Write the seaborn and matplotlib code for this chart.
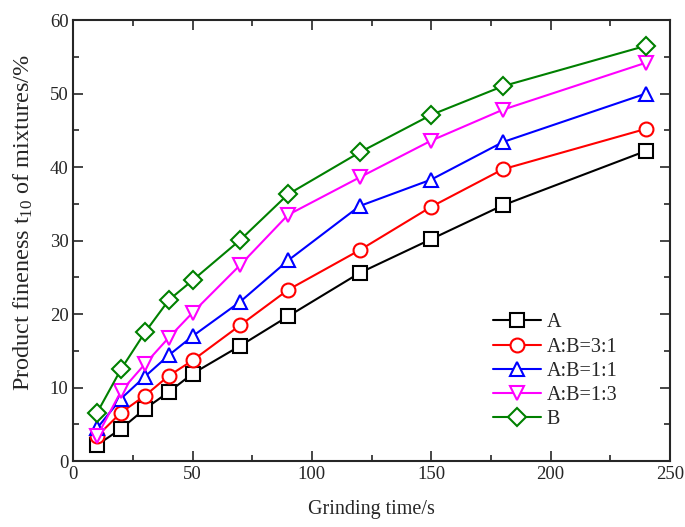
import matplotlib
matplotlib.use("Agg")
import matplotlib.pyplot as plt
import seaborn as sns
import numpy as np
from matplotlib.ticker import MultipleLocator

time = [10, 20, 30, 40, 50, 70, 90, 120, 150, 180, 240]
a = [2.2, 4.4, 7.1, 9.4, 11.9, 15.7, 19.7, 25.6, 30.2, 34.8, 42.2]
ab31 = [3.4, 6.6, 8.9, 11.6, 13.7, 18.5, 23.3, 28.7, 34.6, 39.7, 45.2]
ab11 = [4.5, 8.5, 11.5, 14.4, 17.0, 21.7, 27.3, 34.7, 38.3, 43.4, 50.0]
ab13 = [3.4, 9.5, 13.2, 16.8, 20.2, 26.7, 33.5, 38.6, 43.6, 47.8, 54.2]
b = [6.6, 12.5, 17.5, 21.9, 24.6, 30.1, 36.3, 42.0, 47.1, 51.0, 56.5]

series = [("A", a, "black", "s"),
          ("A:B=3:1", ab31, "red", "o"),
          ("A:B=1:1", ab11, "blue", "^"),
          ("A:B=1:3", ab13, "magenta", "v"),
          ("B", b, "green", "D")]

sns.set_style("ticks")
plt.rcParams['font.family'] = ['Liberation Serif', 'DejaVu Serif']
plt.rcParams['mathtext.fontset'] = 'custom'
plt.rcParams['mathtext.rm'] = 'Liberation Serif'

fig = plt.figure(figsize=(6.85, 5.27), dpi=100)
ax = fig.add_axes([0.107, 0.125, 0.871, 0.837])

for name, vals, col, mk in series:
    ms = 9 if mk == "D" else 10
    sns.lineplot(x=time, y=vals, color=col, marker=mk, label=name, ax=ax,
                 markersize=ms, markeredgecolor=col, markerfacecolor="white",
                 markeredgewidth=1.5, linewidth=1.5)

ax.set_xlim(0, 250)
ax.set_ylim(0, 60)
ax.xaxis.set_major_locator(MultipleLocator(50))
ax.xaxis.set_minor_locator(MultipleLocator(25))
ax.yaxis.set_major_locator(MultipleLocator(10))
ax.yaxis.set_minor_locator(MultipleLocator(5))
ax.tick_params(which="both", direction="in", top=True, right=True,
               labelsize=13.5, width=1.2)
ax.tick_params(which="major", length=7)
ax.tick_params(which="minor", length=4)
for s in ax.spines.values():
    s.set_linewidth(1.5)
    s.set_visible(True)

ax.set_xlabel("Grinding time/s", fontsize=14.5, labelpad=12)
ax.set_ylabel(r"Product fineness t$\mathregular{_{10}}$ of mixtures/%", fontsize=17.5)
ax.yaxis.set_label_coords(-0.064, 0.54)

ax.legend(loc="center left", bbox_to_anchor=(0.69, 0.204), frameon=False,
          fontsize=14.5, handlelength=2.4, handletextpad=0.25, labelspacing=0.25,
          borderaxespad=0)

fig.savefig("out.png", dpi=100)
